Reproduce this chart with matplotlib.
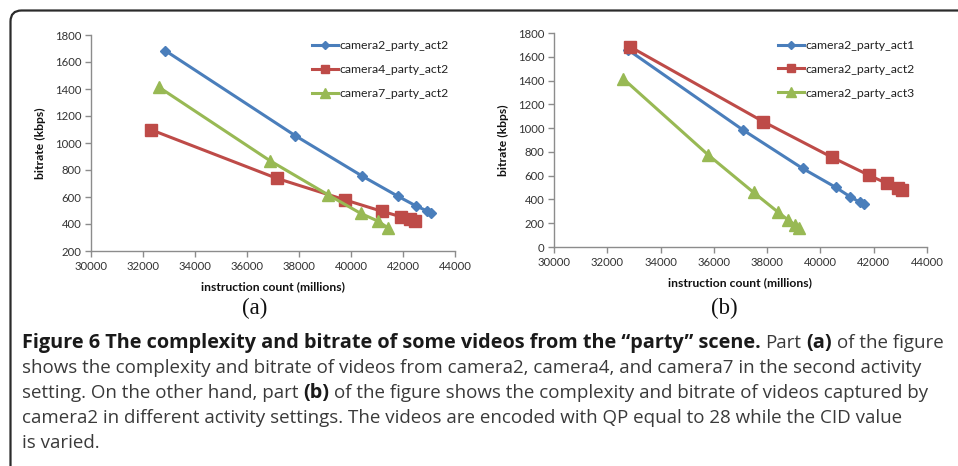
import matplotlib
matplotlib.use("Agg")
import matplotlib.pyplot as plt
from matplotlib.path import Path
from matplotlib.patches import PathPatch

# ---- data -------------------------------------------------------------
# (a) camera2 / camera4 / camera7, second activity setting
a_cam2_x = [32850, 37850, 40430, 41810, 42490, 42920, 43080]
a_cam2_y = [1685, 1055, 755, 605, 535, 497, 479]
a_cam4_x = [32310, 37150, 39780, 41190, 41920, 42270, 42460]
a_cam4_y = [1098, 738, 578, 494, 454, 434, 424]
a_cam7_x = [32600, 36890, 39130, 40370, 41030, 41410]
a_cam7_y = [1415, 868, 615, 479, 422, 373]
a_labels = ["camera2_party_act2", "camera4_party_act2", "camera7_party_act2"]

# (b) camera2 in three activity settings
b_act1_x = [32770, 37090, 39330, 40580, 41120, 41480, 41640]
b_act1_y = [1660, 985, 661, 501, 422, 377, 360]
b_act2_x = a_cam2_x
b_act2_y = a_cam2_y
b_act3_x = [32600, 35790, 37490, 38400, 38800, 39060, 39180]
b_act3_y = [1415, 774, 459, 295, 225, 183, 160]
b_labels = ["camera2_party_act1", "camera2_party_act2", "camera2_party_act3"]

x_ticks = [30000, 32000, 34000, 36000, 38000, 40000, 42000, 44000]
a_y_ticks = [200, 400, 600, 800, 1000, 1200, 1400, 1600, 1800]
b_y_ticks = [0, 200, 400, 600, 800, 1000, 1200, 1400, 1600, 1800]

x_label = "instruction count (millions)"
y_label = "bitrate (kbps)"

caption_lines = [
    [("Figure 6 The complexity and bitrate of some videos from the \u201cparty\u201d scene.", True),
     ("Part", False), ("(a)", True), ("of the figure", False)],
    [("shows the complexity and bitrate of videos from camera2, camera4, and camera7 in the second activity", False)],
    [("setting. On the other hand, part", False), ("(b)", True),
     ("of the figure shows the complexity and bitrate of videos captured by", False)],
    [("camera2 in different activity settings. The videos are encoded with QP equal to 28 while the CID value", False)],
    [("is varied.", False)],
]

# ---- style --------------------------------------------------------------
W, H = 958, 466
BLUE = "#4A7EBB"
RED = "#BE4B48"
GREEN = "#98B954"
AXIS_GRAY = "#8C8C8C"
TICK_TXT = "#333333"
CHART_FONT = ["Lato", "DejaVu Sans"]
CAP_FONT = ["Open Sans", "DejaVu Sans"]

fig = plt.figure(figsize=(W / 100, H / 100), dpi=100)


def px_rect(x0, y0, x1, y1):
    """Axes rectangle from pixel corners (top-left origin)."""
    return [x0 / W, 1 - y1 / H, (x1 - x0) / W, (y1 - y0) / H]


def style_axes(ax, yticks, ylim):
    ax.set_xlim(x_ticks[0], x_ticks[-1])
    ax.set_ylim(*ylim)
    ax.set_xticks(x_ticks)
    ax.set_yticks(yticks)
    for s in ("top", "right"):
        ax.spines[s].set_visible(False)
    for s in ("left", "bottom"):
        ax.spines[s].set_color(AXIS_GRAY)
        ax.spines[s].set_linewidth(1.0)
    ax.tick_params(direction="out", length=4, width=1.0, color=AXIS_GRAY,
                   labelsize=8.2, labelcolor=TICK_TXT, pad=3)
    for lab in ax.get_xticklabels() + ax.get_yticklabels():
        lab.set_family(CHART_FONT)
    ax.set_xlabel(x_label, fontsize=8.7, fontweight="bold", family=CHART_FONT,
                  color="#111111", labelpad=7)
    ax.set_ylabel(y_label, fontsize=8.7, fontweight="bold", family=CHART_FONT,
                  color="#111111", labelpad=6)
    ax.patch.set_alpha(0)


def draw_series(ax, xs, ys, color, marker, ms, label):
    ax.plot(xs, ys, color=color, lw=2.2, marker=marker, ms=ms,
            markerfacecolor=color, markeredgecolor=color, label=label,
            solid_joinstyle="round")


def add_legend(ax, anchor):
    ax.legend(loc="upper left", bbox_to_anchor=anchor, frameon=False,
              prop={"family": CHART_FONT, "size": 8.8}, handlelength=2.15,
              handletextpad=0.1, labelspacing=1.05, borderpad=0,
              borderaxespad=0, numpoints=1, markerscale=0.8,
              labelcolor="#222222")


# panel (a)
ax_a = fig.add_axes(px_rect(91, 35, 455, 251))
draw_series(ax_a, a_cam2_x, a_cam2_y, BLUE, "D", 5.5, a_labels[0])
draw_series(ax_a, a_cam4_x, a_cam4_y, RED, "s", 8, a_labels[1])
draw_series(ax_a, a_cam7_x, a_cam7_y, GREEN, "^", 8.3, a_labels[2])
style_axes(ax_a, a_y_ticks, (200, 1800))
add_legend(ax_a, (0.607, 0.975))

# panel (b)
ax_b = fig.add_axes(px_rect(554, 33, 927, 247))
draw_series(ax_b, b_act1_x, b_act1_y, BLUE, "D", 5.5, b_labels[0])
draw_series(ax_b, b_act2_x, b_act2_y, RED, "s", 8, b_labels[1])
draw_series(ax_b, b_act3_x, b_act3_y, GREEN, "^", 8.3, b_labels[2])
style_axes(ax_b, b_y_ticks, (0, 1800))
add_legend(ax_b, (0.600, 0.968))

# pixel-space overlay for the frame, panel tags and caption
ov = fig.add_axes([0, 0, 1, 1], zorder=-1)
ov.set_xlim(0, W)
ov.set_ylim(H, 0)
ov.axis("off")

r = 11
verts = [(10.5, H + 5), (10.5, 10.5 + r), (10.5, 10.5), (10.5 + r, 10.5), (W + 5, 10.5)]
codes = [Path.MOVETO, Path.LINETO, Path.CURVE3, Path.CURVE3, Path.LINETO]
ov.add_patch(PathPatch(Path(verts, codes), fill=False, lw=1.6, edgecolor="#2b2b2b"))

ov.text(255, 308, "(a)", family=["Liberation Serif", "DejaVu Serif"], fontsize=16.5,
        ha="center", va="center", color="#111111")
ov.text(724, 308, "(b)", family=["Liberation Serif", "DejaVu Serif"], fontsize=16.5,
        ha="center", va="center", color="#111111")

# caption, sized so that the second line spans its measured width
fig.canvas.draw()
rend = fig.canvas.get_renderer()


def text_width(s, size, bold):
    t = ov.text(0, 0, s, family=CAP_FONT, fontsize=size,
                fontweight="bold" if bold else "normal")
    w = t.get_window_extent(renderer=rend).width
    t.remove()
    return w


ref_size = 12
target = 916 - 22
cap_size = ref_size * target / text_width(caption_lines[1][0][0], ref_size, False)
bold_size = cap_size * 1.06

baselines = [348, 373, 398, 423, 448]
for parts, yb in zip(caption_lines, baselines):
    x = 22
    for i, (s, bold) in enumerate(parts):
        size = bold_size if bold else cap_size
        if i > 0:
            x += text_width("x x", cap_size, False) - text_width("xx", cap_size, False)
        t = ov.text(x, yb, s, family=CAP_FONT, fontsize=size,
                    fontweight="bold" if bold else "normal", va="baseline",
                    ha="left", color="#1a1a1a" if bold else "#3a3a3a")
        x += t.get_window_extent(renderer=rend).width

fig.savefig("out.png", dpi=100)
